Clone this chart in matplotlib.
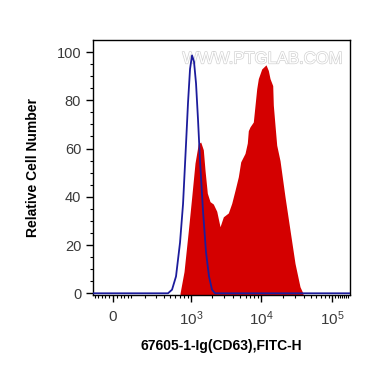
import numpy as np
import matplotlib
matplotlib.use("Agg")
import matplotlib.pyplot as plt
import matplotlib.patheffects as pe

plt.rcParams['font.family'] = ['Liberation Sans', 'DejaVu Sans']
plt.rcParams['mathtext.fontset'] = 'custom'
plt.rcParams['mathtext.rm'] = 'Liberation Sans'
plt.rcParams['mathtext.it'] = 'Liberation Sans'

# isotype control (blue outline)
control_x = [-120, 466, 535, 612, 700, 774, 855, 913, 976, 1042, 1113, 1189,
             1269, 1355, 1496, 1650, 1819, 2006, 2214, 180000]
control_y = [0, 0, 1.5, 7, 21, 37, 62, 79, 93, 98.6, 96, 87,
             72, 55, 34, 17, 7, 1.5, 0, 0]

# CD63 stained sample (red filled)
sample_x = [700, 800, 923, 1032, 1150, 1281, 1387, 1510, 1597, 1722, 1880,
            2094, 2342, 2608, 2904, 3418, 3818, 4253, 4736, 5120, 5889,
            6348, 6558, 6933, 7717, 8157, 8621, 9088, 10150, 11670, 12580,
            13300, 14520, 14810, 15650, 16540, 18420, 21670, 25500, 30020,
            35330, 38950]
sample_y = [0, 9, 26, 40, 54, 62, 62.7, 59.5, 51, 41.5, 38,
            37, 34, 27.6, 31.7, 33.3, 37.3, 42.7, 48.3, 54.5, 58,
            62.3, 67.4, 69, 71, 77.9, 84.8, 89, 93, 94.7, 92.4,
            89, 86.1, 78, 69.6, 61.4, 55, 40, 26.2, 12.4, 2.7, 0]

x_major = [0, 1e3, 1e4, 1e5]
x_labels = ['0', r'$10^{3}$', r'$10^{4}$', r'$10^{5}$']
y_major = [0, 20, 40, 60, 80, 100]

C = 160.0


def fwd(x):
    return np.arcsinh(np.asarray(x, dtype=float) / C) / np.log(10)


def inv(p):
    return C * np.sinh(np.asarray(p, dtype=float) * np.log(10))


fig = plt.figure(figsize=(3.70, 3.67), dpi=100)
ax = fig.add_axes([93 / 370, 72.5 / 367, 257 / 370, 254.5 / 367])
ax.set_xscale('function', functions=(fwd, inv))
ax.set_xlim(-112, 180000)
ax.set_ylim(-0.5, 105)

ax.fill_between(sample_x, sample_y, -1, color='#d40000', linewidth=0, zorder=2)
ax.plot(control_x, control_y, color='#1c1c9c', linewidth=1.3, zorder=3)

# minor ticks: linear region and log decades
minor = [-100, -80, -60, -40, -20, 20, 40, 60, 80, 100]
for dec in [100, 1000, 10000]:
    minor += [m * dec for m in range(2, 10)]
minor += [k * 10000 for k in range(11, 18)]
ax.set_xticks(x_major)
ax.set_xticklabels(x_labels)
ax.set_xticks([m for m in minor if m not in x_major], minor=True)
ax.set_yticks(y_major)
ax.set_yticks(range(0, 105, 5), minor=True)

ax.tick_params(axis='both', which='major', direction='out', length=5,
               width=1.0, labelsize=10.5, labelcolor='#3a3a3a')
ax.tick_params(axis='both', which='minor', direction='out', length=2.5, width=0.8)
ax.tick_params(axis='x', which='major', pad=6, labelsize=11)
for s in ax.spines.values():
    s.set_linewidth(1.0)

ax.set_xlabel('67605-1-Ig(CD63),FITC-H', fontsize=10, fontweight='bold', labelpad=8)
ax.set_ylabel('Relative Cell Number', fontsize=10, fontweight='bold', labelpad=12)

ax.text(0.97, 0.955, 'WWW.PTGLAB.COM', transform=ax.transAxes, ha='right', va='top',
        fontsize=12, color='white', zorder=1,
        path_effects=[pe.withStroke(linewidth=1.0, foreground='#d2d2d2')])

fig.savefig('out.png', dpi=100)
